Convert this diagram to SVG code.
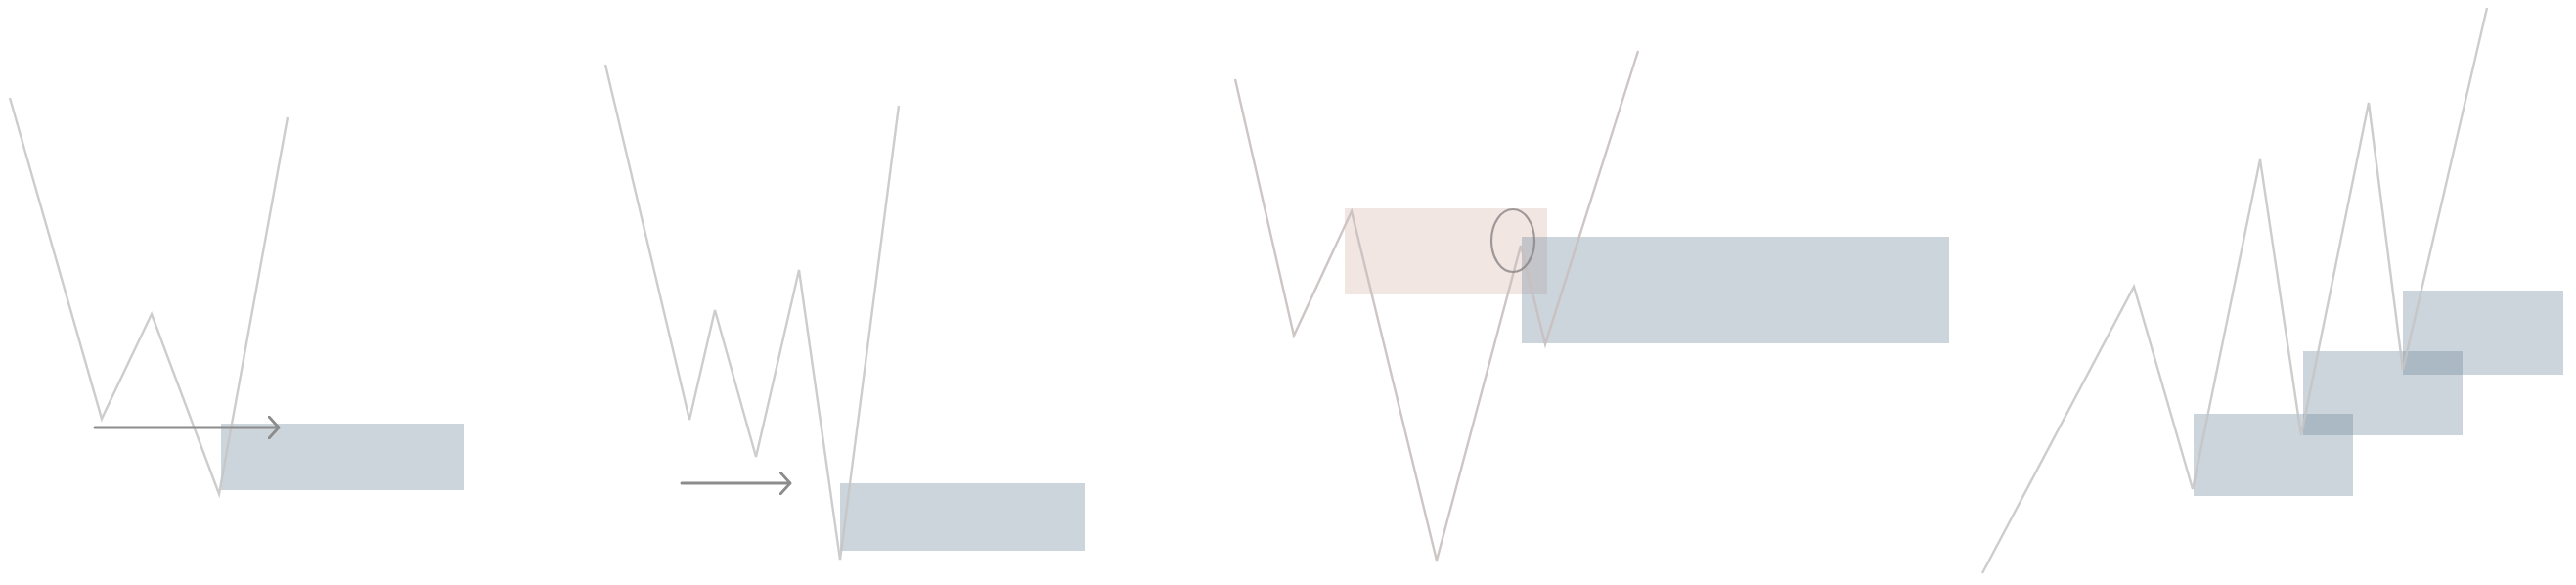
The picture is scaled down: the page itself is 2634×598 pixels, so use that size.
<svg xmlns="http://www.w3.org/2000/svg" width="2634" height="598" viewBox="0 0 2634 598">
<style>
.zone{fill:#6d879b;fill-opacity:0.35}
.supply{fill:#e9d6d1;fill-opacity:0.6}
.price{fill:none;stroke:#c4c4c4;stroke-opacity:0.85;stroke-width:2.4;stroke-linejoin:miter}
.price3{fill:none;stroke:#c9bfbf;stroke-opacity:0.9;stroke-width:2.4}
.arrow{fill:none;stroke:#8c8c8c;stroke-width:3;stroke-linecap:round}
.mark{fill:none;stroke:#8a8585;stroke-opacity:0.8;stroke-width:2.2}
</style>
<defs>
<marker id="chev" viewBox="0 0 12 24" refX="11" refY="12" markerWidth="12" markerHeight="24" markerUnits="userSpaceOnUse" orient="auto">
<path d="M1,1 L11,12 L1,23" fill="none" stroke="#8c8c8c" stroke-width="2.8" stroke-linecap="round"/>
</marker>
</defs>
<rect width="2634" height="598" fill="#ffffff"/>
<g id="panel1">
<rect class="zone" x="226" y="433" width="248" height="68"/>
<polyline class="price" points="10,100 104,428 155,321 224,505 294,120"/>
</g>
<g id="panel2">
<rect class="zone" x="859" y="494" width="250" height="69"/>
<polyline class="price" points="619,66 705,429 731,317 773,467 817,276 859,572 919,108"/>
</g>
<g id="panel3">
<rect class="supply" x="1375" y="213" width="207" height="88"/>
<rect class="zone" x="1556" y="242" width="437" height="109"/>
<polyline class="price3" points="1263,81 1323,343 1382,216 1469,573 1555,251 1580,352 1675,52"/>
<ellipse class="mark" cx="1547" cy="246" rx="22" ry="32"/>
</g>
<g id="panel4">
<rect class="zone" x="2243" y="423" width="163" height="84"/>
<rect class="zone" x="2355" y="359" width="163" height="86"/>
<rect class="zone" x="2457" y="297" width="164" height="86"/>
<polyline class="price" points="2027,586 2182,293 2242,500 2311,163 2353,445 2422,105 2457,378 2543,8"/>
</g>
<g id="connectors">
<line class="arrow" x1="97" y1="437" x2="285" y2="437" marker-end="url(#chev)"/>
<line class="arrow" x1="697" y1="494" x2="808" y2="494" marker-end="url(#chev)"/>
</g>
</svg>
